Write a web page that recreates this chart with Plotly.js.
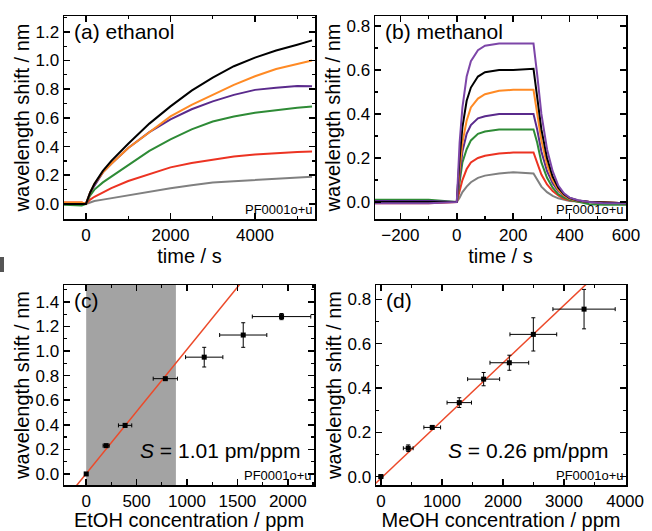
<!DOCTYPE html>
<html><head><meta charset="utf-8">
<script src="https://cdn.plot.ly/plotly-3.0.1.min.js"></script>
<style>html,body{margin:0;padding:0;background:#fff}#chart{width:652px;height:531px}</style>
</head><body><div id="chart"></div>
<script>
// ---------- (a) ethanol time traces ----------
const timeA = [-520, -300, -100, 0, 100, 200, 400, 600, 1000, 1500, 2000, 2500, 3000, 3500, 4000, 4500, 5000, 5350];
const etBlack  = [0, 0, 0, 0, 0.08, 0.14, 0.23, 0.30, 0.42, 0.56, 0.68, 0.79, 0.88, 0.96, 1.02, 1.07, 1.11, 1.14];
const etOrange = [0.01, 0.01, 0.01, 0, 0.08, 0.14, 0.22, 0.28, 0.39, 0.50, 0.61, 0.69, 0.76, 0.83, 0.89, 0.94, 0.975, 1.0];
const etPurple = [0, 0, 0, 0, 0.08, 0.13, 0.22, 0.28, 0.39, 0.50, 0.59, 0.66, 0.715, 0.76, 0.795, 0.81, 0.822, 0.82];
const etGreen  = [-0.005, -0.005, -0.01, 0, 0.06, 0.10, 0.15, 0.19, 0.27, 0.37, 0.45, 0.52, 0.575, 0.61, 0.635, 0.655, 0.67, 0.68];
const etRed    = [0.01, 0.01, 0.01, 0, 0.03, 0.05, 0.08, 0.11, 0.16, 0.21, 0.255, 0.285, 0.31, 0.33, 0.345, 0.355, 0.362, 0.365];
const etGray   = [0, 0, 0, 0, 0.01, 0.02, 0.03, 0.04, 0.065, 0.09, 0.11, 0.13, 0.15, 0.158, 0.167, 0.176, 0.185, 0.19];

// ---------- (b) methanol time traces ----------
const timeB = [-290, -100, 0, 10, 20, 35, 50, 75, 100, 150, 200, 272, 285, 300, 320, 340, 360, 380, 400, 430, 470, 520, 600];
const meViolet = [-0.005, -0.005, 0, 0.27, 0.43, 0.57, 0.64, 0.69, 0.71, 0.72, 0.72, 0.72, 0.58, 0.40, 0.24, 0.14, 0.075, 0.04, 0.02, 0.008, 0.0, -0.005, -0.005];
const meBlack  = [0, 0, 0, 0.20, 0.34, 0.46, 0.52, 0.57, 0.59, 0.60, 0.60, 0.605, 0.48, 0.33, 0.20, 0.115, 0.065, 0.035, 0.018, 0.007, 0, -0.003, -0.005];
const meOrange = [0, 0, 0, 0.15, 0.27, 0.37, 0.43, 0.47, 0.49, 0.505, 0.51, 0.51, 0.41, 0.28, 0.17, 0.10, 0.055, 0.03, 0.015, 0.006, 0, -0.003, -0.005];
const mePurple = [0.005, 0.005, 0, 0.13, 0.23, 0.31, 0.35, 0.38, 0.39, 0.40, 0.40, 0.40, 0.33, 0.23, 0.14, 0.085, 0.05, 0.028, 0.015, 0.006, 0, -0.003, -0.005];
const meGreen  = [0.01, 0.01, 0, 0.10, 0.18, 0.24, 0.28, 0.31, 0.32, 0.33, 0.33, 0.33, 0.27, 0.18, 0.11, 0.065, 0.035, 0.02, 0.01, 0.0, -0.01, -0.012, -0.012];
const meRed    = [-0.005, -0.005, 0, 0.05, 0.10, 0.15, 0.18, 0.20, 0.21, 0.22, 0.225, 0.225, 0.18, 0.125, 0.08, 0.05, 0.03, 0.015, 0.008, 0.002, 0, -0.003, -0.005];
const meGray   = [0, 0, 0, 0.02, 0.045, 0.07, 0.09, 0.11, 0.12, 0.13, 0.135, 0.13, 0.105, 0.07, 0.045, 0.028, 0.017, 0.01, 0.005, 0.002, 0, -0.003, -0.005];

// ---------- (c) EtOH concentration ----------
const etohConc   = [0, 198, 386, 785, 1171, 1558, 1938];
const etohShift  = [0.0, 0.23, 0.395, 0.775, 0.95, 1.13, 1.28];
const etohConcErr  = [15, 30, 66, 120, 185, 234, 290];
const etohShiftErr = [0.01, 0.012, 0.015, 0.01, 0.08, 0.10, 0.025];
const etohFitX = [-200, 1600];
const etohFitY = [-0.2, 1.62];
const etohLinearRange = [0, 890];
const etohLabel = '<i>S</i> = 1.01 pm/ppm';

// ---------- (d) MeOH concentration ----------
const meohConc   = [0, 448, 841, 1284, 1683, 2104, 2497, 3328];
const meohShift  = [0.0, 0.128, 0.222, 0.334, 0.44, 0.514, 0.642, 0.756];
const meohConcErr  = [30, 80, 137, 200, 262, 317, 383, 510];
const meohShiftErr = [0.008, 0.015, 0.008, 0.022, 0.03, 0.034, 0.075, 0.089];
const meohFitX = [-200, 3600];
const meohFitY = [-0.06, 0.93];
const meohLabel = '<i>S</i> = 0.26 pm/ppm';

const C = {black:'#000000', orange:'#ff8a24', purple:'#5a2a8c', violet:'#7d46a8', green:'#2e8b36', red:'#ec3322', gray:'#808080', fit:'#ec4a2a'};
const FONT = 'Liberation Sans, Arial, sans-serif';

function line(x, y, color, xa, ya) {
  return {type:'scatter', mode:'lines', x:x, y:y, xaxis:xa, yaxis:ya, line:{color:color, width:2}, showlegend:false, hoverinfo:'skip'};
}

const data = [
  line(timeA, etGray, C.gray, 'x', 'y'),
  line(timeA, etRed, C.red, 'x', 'y'),
  line(timeA, etGreen, C.green, 'x', 'y'),
  line(timeA, etPurple, C.purple, 'x', 'y'),
  line(timeA, etOrange, C.orange, 'x', 'y'),
  line(timeA, etBlack, C.black, 'x', 'y'),

  line(timeB, meGray, C.gray, 'x2', 'y2'),
  line(timeB, meRed, C.red, 'x2', 'y2'),
  line(timeB, meGreen, C.green, 'x2', 'y2'),
  line(timeB, mePurple, C.purple, 'x2', 'y2'),
  line(timeB, meOrange, C.orange, 'x2', 'y2'),
  line(timeB, meBlack, C.black, 'x2', 'y2'),
  line(timeB, meViolet, C.violet, 'x2', 'y2'),

  {type:'scatter', mode:'lines', x:etohFitX, y:etohFitY, xaxis:'x3', yaxis:'y3', line:{color:C.fit, width:1.5}, showlegend:false},
  {type:'scatter', mode:'markers', x:etohConc, y:etohShift, xaxis:'x3', yaxis:'y3', showlegend:false,
   marker:{symbol:'square', size:5, color:'#000'},
   error_x:{type:'data', array:etohConcErr, color:'#000', thickness:1, width:2},
   error_y:{type:'data', array:etohShiftErr, color:'#000', thickness:1, width:2}},

  {type:'scatter', mode:'lines', x:meohFitX, y:meohFitY, xaxis:'x4', yaxis:'y4', line:{color:C.fit, width:1.5}, showlegend:false},
  {type:'scatter', mode:'markers', x:meohConc, y:meohShift, xaxis:'x4', yaxis:'y4', showlegend:false,
   marker:{symbol:'square', size:5, color:'#000'},
   error_x:{type:'data', array:meohConcErr, color:'#000', thickness:1, width:2},
   error_y:{type:'data', array:meohShiftErr, color:'#000', thickness:1, width:2}}
];

const W = 652, H = 531;
function dx(a, b) { return [a / W, b / W]; }
function dy(top, bottom) { return [(H - bottom) / H, (H - top) / H]; }

function axis(domain, range, dtick, minorDtick, anchor, title, fmt) {
  const a = {
    domain: domain, range: range, anchor: anchor, autorange: false,
    tick0: 0, dtick: dtick, showline: true, mirror: 'ticks', linecolor: '#000', linewidth: 1.5,
    ticks: 'inside', ticklen: 6, tickwidth: 1.5, tickcolor: '#000',
    minor: {ticks: 'inside', ticklen: 3, tickwidth: 1.2, tickcolor: '#000', tick0: 0, dtick: minorDtick, showgrid: false},
    showgrid: false, zeroline: false,
    tickfont: {size: 17, color: '#000', family: FONT},
    title: {text: title, font: {size: 20, color: '#000', family: FONT}, standoff: 0}
  };
  if (fmt) a.tickformat = fmt;
  return a;
}

const yTitle = 'wavelength shift / nm';
const layout = {
  width: W, height: H, margin: {l: 0, r: 0, t: 0, b: 0},
  paper_bgcolor: '#fff', plot_bgcolor: '#fff', showlegend: false,
  font: {family: FONT, color: '#000'},
  xaxis:  axis(dx(64, 315), [-520, 5420], 2000, 1000, 'y', 'time / s'),
  yaxis:  axis(dy(16, 219), [-0.105, 1.31], 0.2, 0.1, 'x', yTitle, '.1f'),
  xaxis2: axis(dx(375, 626), [-290, 600], 200, 100, 'y2', 'time / s'),
  yaxis2: axis(dy(16, 219), [-0.077, 0.845], 0.2, 0.1, 'x2', yTitle, '.1f'),
  xaxis3: axis(dx(64, 314), [-220, 2260], 500, 250, 'y3', 'EtOH concentration / ppm'),
  yaxis3: axis(dy(285, 485), [-0.09, 1.537], 0.2, 0.1, 'x3', yTitle, '.1f'),
  xaxis4: axis(dx(376, 626), [-80, 4015], 1000, 500, 'y4', 'MeOH concentration / ppm'),
  yaxis4: axis(dy(285, 485), [-0.038, 0.865], 0.2, 0.1, 'x4', yTitle, '.1f'),
  shapes: [
    {type: 'rect', xref: 'x3', yref: 'y3 domain', x0: etohLinearRange[0], x1: etohLinearRange[1], y0: 0, y1: 1,
     fillcolor: '#a3a3a3', line: {width: 0}, layer: 'below'},
    {type: 'rect', xref: 'paper', yref: 'paper', x0: 0, x1: 4 / W, y0: (H - 272) / H, y1: (H - 257) / H,
     fillcolor: '#555', line: {width: 0}}
  ],
  annotations: [
    {xref: 'x domain', yref: 'y domain', x: 0.03, y: 0.99, xanchor: 'left', yanchor: 'top', text: '(a) ethanol', showarrow: false, font: {size: 21}},
    {xref: 'x2 domain', yref: 'y2 domain', x: 0.03, y: 0.99, xanchor: 'left', yanchor: 'top', text: '(b) methanol', showarrow: false, font: {size: 21}},
    {xref: 'x3 domain', yref: 'y3 domain', x: 0.03, y: 0.99, xanchor: 'left', yanchor: 'top', text: '(c)', showarrow: false, font: {size: 21}},
    {xref: 'x4 domain', yref: 'y4 domain', x: 0.03, y: 0.99, xanchor: 'left', yanchor: 'top', text: '(d)', showarrow: false, font: {size: 21}},
    {xref: 'x3 domain', yref: 'y3 domain', x: 0.955, y: 0.175, xanchor: 'right', yanchor: 'middle', text: etohLabel, showarrow: false, font: {size: 21}},
    {xref: 'x4 domain', yref: 'y4 domain', x: 0.94, y: 0.175, xanchor: 'right', yanchor: 'middle', text: meohLabel, showarrow: false, font: {size: 21}},
    {xref: 'x domain', yref: 'y domain', x: 1, y: 0, xanchor: 'right', yanchor: 'bottom', text: 'PF0001o+u', showarrow: false, font: {size: 13}},
    {xref: 'x2 domain', yref: 'y2 domain', x: 1, y: 0, xanchor: 'right', yanchor: 'bottom', text: 'PF0001o+u', showarrow: false, font: {size: 13}},
    {xref: 'x3 domain', yref: 'y3 domain', x: 1, y: 0, xanchor: 'right', yanchor: 'bottom', text: 'PF0001o+u', showarrow: false, font: {size: 13}},
    {xref: 'x4 domain', yref: 'y4 domain', x: 1, y: 0, xanchor: 'right', yanchor: 'bottom', text: 'PF0001o+u', showarrow: false, font: {size: 13}}
  ]
};

Plotly.newPlot('chart', data, layout, {staticPlot: true, displayModeBar: false});
</script></body></html>
